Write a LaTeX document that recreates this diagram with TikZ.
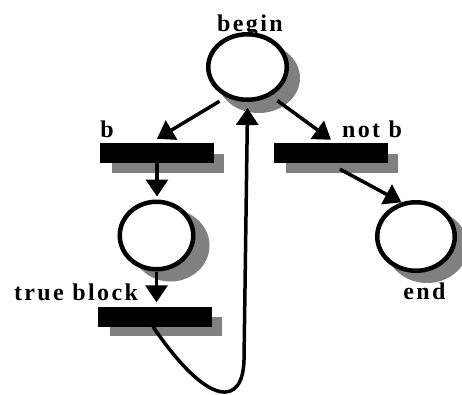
\documentclass[tikz,border=0pt]{standalone}
\usepackage{fontspec}
\setmainfont{Liberation Serif}
\newfontfamily\lblfont[LetterSpace=10]{Liberation Serif}
\usetikzlibrary{shapes.geometric,arrows.meta,calc}
\definecolor{shadowgray}{RGB}{128,128,128}
\begin{document}
\begin{tikzpicture}[x=1pt,y=-1pt,
  place/.style={ellipse, draw=black, line width=4.5pt, fill=white, inner sep=0pt},
  pshade/.style={ellipse, fill=shadowgray, inner sep=0pt},
  trans/.style={rectangle, fill=black, inner sep=0pt, minimum width=114pt, minimum height=20pt},
  tshade/.style={rectangle, fill=shadowgray, inner sep=0pt, minimum width=112pt, minimum height=19pt},
  arc/.style={line width=3.5pt, -{Triangle[length=17pt,width=22pt]}},
  lbl/.style={font=\lblfont\bfseries\fontsize{24}{24}\selectfont, anchor=base, inner sep=0pt}
]
\useasboundingbox (0,0) rectangle (462,394);
% shadows
\node[pshade, minimum width=83pt, minimum height=70pt] (sbegin) at (258.5,78) {};
\node[pshade, minimum width=78pt, minimum height=72pt] (smid) at (170.5,245.5) {};
\node[pshade, minimum width=82pt, minimum height=73pt] (send) at (427,246.5) {};
\node[tshade] (sb) at (168,163) {};
\node[tshade] (snotb) at (342,163) {};
\node[tshade] (stb) at (166,326.5) {};
% places
\node[place, minimum width=78.5pt, minimum height=65.5pt] (begin) at (247.5,67) {};
\node[place, minimum width=73.5pt, minimum height=67.5pt] (mid) at (156.5,235.5) {};
\node[place, minimum width=77.5pt, minimum height=68.5pt] (end) at (416,236.5) {};
% transitions
\node[trans] (b) at (157,153) {};
\node[trans] (notb) at (331,153) {};
\node[trans] (tb) at (155,316.5) {};
% connectors
\draw[arc, shorten <=8pt] (begin.235) -- ([yshift=4pt]b.north);
\draw[arc, shorten <=8pt] (begin.-51) -- ([yshift=3pt]notb.north);
\draw[arc, shorten >=3pt] (b.south) -- (b.south |- mid.north);
\draw[arc] (mid.south) -- ([yshift=4pt]mid.south |- tb.north);
\draw[arc] ($(notb.south)+(9,6)$) -- (end.113);
\draw[arc] ([xshift=-2pt]tb.south) .. controls (210,410) and (243,405) .. (244,360) -- ([yshift=-6pt]begin.south);
% labels
\node[lbl] (lbegin) at (250,31) {begin};
\node[lbl] (lb) at (107,137) {b};
\node[lbl] (lnotb) at (372,137) {not b};
\node[lbl] (ltb) at (76,300) {true block};
\node[lbl] (lend) at (424.5,299) {end};
\end{tikzpicture}
\end{document}
